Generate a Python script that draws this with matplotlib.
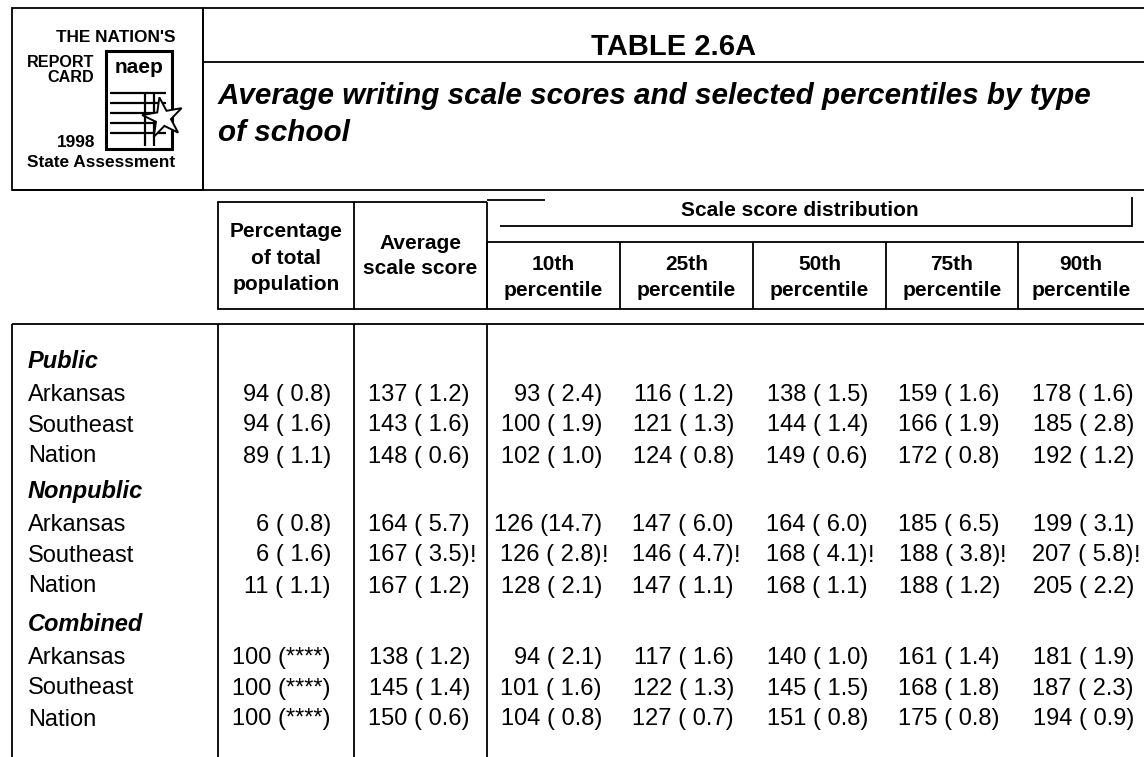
import matplotlib
matplotlib.use("Agg")
import matplotlib.pyplot as plt
from matplotlib.patches import Rectangle, Polygon
import numpy as np

# ---------------- data ----------------
groups = ["Public", "Nonpublic", "Combined"]
regions = ["Arkansas", "Southeast", "Nation"]

pct_total = [94, 94, 89, 6, 6, 11, 100, 100, 100]
pct_total_se = [0.8, 1.6, 1.1, 0.8, 1.6, 1.1, None, None, None]
avg_score = [137, 143, 148, 164, 167, 167, 138, 145, 150]
avg_score_se = [1.2, 1.6, 0.6, 5.7, 3.5, 1.2, 1.2, 1.4, 0.6]
p10 = [93, 100, 102, 126, 126, 128, 94, 101, 104]
p10_se = [2.4, 1.9, 1.0, 14.7, 2.8, 2.1, 2.1, 1.6, 0.8]
p25 = [116, 121, 124, 147, 146, 147, 117, 122, 127]
p25_se = [1.2, 1.3, 0.8, 6.0, 4.7, 1.1, 1.6, 1.3, 0.7]
p50 = [138, 144, 149, 164, 168, 168, 140, 145, 151]
p50_se = [1.5, 1.4, 0.6, 6.0, 4.1, 1.1, 1.0, 1.5, 0.8]
p75 = [159, 166, 172, 185, 188, 188, 161, 168, 175]
p75_se = [1.6, 1.9, 0.8, 6.5, 3.8, 1.2, 1.4, 1.8, 0.8]
p90 = [178, 185, 192, 199, 207, 205, 181, 187, 194]
p90_se = [1.6, 2.8, 1.2, 3.1, 5.8, 2.2, 1.9, 2.3, 0.9]
# "!" flag (interpret with caution) -- applies to score columns only
flagged = [False, False, False, False, True, False, False, False, False]

title = "TABLE 2.6A"
subtitle_lines = ["Average writing scale scores and selected percentiles by type",
                  "of school"]
pct_header = ["Percentage", "of total", "population"]
avg_header = ["Average", "scale score"]
pctile_headers = ["10th", "25th", "50th", "75th", "90th"]
pctile_word = "percentile"
spanner = "Scale score distribution"
logo_top = "THE NATION'S"
logo_left = ["REPORT", "CARD"]
logo_year = "1998"
logo_bottom = "State Assessment"
logo_mark = "naep"

# ---------------- figure ----------------
W, H = 1144, 757
fig = plt.figure(figsize=(W / 100, H / 100), dpi=100)
ax = fig.add_axes([0, 0, 1, 1])
ax.set_xlim(0, W)
ax.set_ylim(H, 0)
ax.axis("off")

SANS = ["Liberation Sans", "DejaVu Sans"]
LW = 1.3


def hline(y, x0, x1, lw=LW):
    ax.plot([x0, x1], [y, y], color="black", lw=lw, solid_capstyle="butt")


def vline(x, y0, y1, lw=LW):
    ax.plot([x, x], [y0, y1], color="black", lw=lw, solid_capstyle="butt")


# ---------- logo box ----------
ax.add_patch(Rectangle((12, 8), 191, 182, fill=False, ec="black", lw=LW))
LFS = 12.4
ax.text(175, 42, logo_top, ha="right", va="baseline", fontsize=LFS,
        fontweight="bold", family=SANS)
ax.text(94, 67, logo_left[0], ha="right", va="baseline", fontsize=11.6,
        fontweight="bold", family=SANS)
ax.text(94, 82, logo_left[1], ha="right", va="baseline", fontsize=11.6,
        fontweight="bold", family=SANS)
ax.text(95, 147, logo_year, ha="right", va="baseline", fontsize=LFS,
        fontweight="bold", family=SANS)
ax.text(175, 167, logo_bottom, ha="right", va="baseline", fontsize=LFS,
        fontweight="bold", family=SANS)
# report-card icon
ax.add_patch(Rectangle((106, 51), 66, 98, fill=False, ec="black", lw=2.2))
ax.text(139, 73, logo_mark, ha="center", va="baseline", fontsize=15,
        fontweight="heavy", family=SANS)
for yy in [93, 103, 113, 123, 133]:
    hline(yy, 110, 166, lw=1.6)
for xx in [145, 154]:
    vline(xx, 93, 146, lw=1.6)
ang = np.deg2rad(np.arange(10) * 36 + 100)
rad = np.where(np.arange(10) % 2 == 0, 21, 8)
star = np.column_stack([163 + rad * np.cos(ang), 118 - rad * np.sin(ang)])
ax.add_patch(Polygon(star, closed=True, fc="white", ec="black", lw=1.4,
                     zorder=5))

# ---------- title box ----------
hline(8, 203, W)
hline(62, 203, W)
hline(190, 12, W)
vline(203, 8, 190)
ax.text((203 + W) / 2, 55, title, ha="center", va="baseline", fontsize=21,
        fontweight="bold", family=SANS)
ax.text(218, 104, subtitle_lines[0], ha="left", va="baseline", fontsize=21.3,
        fontweight="bold", fontstyle="italic", family=SANS)
ax.text(218, 141, subtitle_lines[1], ha="left", va="baseline", fontsize=21.3,
        fontweight="bold", fontstyle="italic", family=SANS)

# ---------- column headers ----------
HFS = 15
# percentage box
ax.add_patch(Rectangle((218, 202), 136, 107, fill=False, ec="black", lw=LW))
for k, s in enumerate(pct_header):
    ax.text(286, 237 + 26.5 * k, s, ha="center", va="baseline", fontsize=HFS,
            fontweight="bold", family=SANS)
# average box
hline(202, 354, 487)
vline(487, 202, 309)
hline(309, 354, 487)
for k, s in enumerate(avg_header):
    ax.text(420.5, 249 + 25 * k, s, ha="center", va="baseline", fontsize=HFS,
            fontweight="bold", family=SANS)
# spanner
hline(200, 487, 545)
hline(226, 500, 1132)
vline(1132, 197, 227)
ax.text(800, 216, spanner, ha="center", va="baseline", fontsize=HFS,
        fontweight="bold", family=SANS)
# percentile boxes
col_edges = [487, 620, 753, 886, 1018, W]
hline(242, 487, W)
hline(309, 487, W)
for xx in col_edges[:-1]:
    vline(xx, 242, 309)
for k, lab in enumerate(pctile_headers):
    cx = (col_edges[k] + min(col_edges[k + 1], 1151)) / 2
    ax.text(cx, 270, lab, ha="center", va="baseline", fontsize=HFS,
            fontweight="bold", family=SANS)
    ax.text(cx, 296, pctile_word, ha="center", va="baseline", fontsize=HFS,
            fontweight="bold", family=SANS)

# ---------- body ----------
hline(324, 12, W)
for xx in [12, 218, 354, 487]:
    vline(xx, 324, H)

DFS = 17
group_y = [360, 490, 623]
row_off = [33, 63.5, 94.5]


def fmt(v, se):
    if se is None:
        return f"{v} (****)"
    return f"{v} ({se:4.1f})"


columns = [
    (pct_total, pct_total_se, 331, False),
    (avg_score, avg_score_se, 470, True),
    (p10, p10_se, 602, True),
    (p25, p25_se, 734, True),
    (p50, p50_se, 868, True),
    (p75, p75_se, 1000, True),
    (p90, p90_se, 1134, True),
]

for g, gname in enumerate(groups):
    gy = group_y[g]
    ax.text(28, gy + 8, gname, ha="left", va="baseline", fontsize=DFS,
            fontweight="bold", fontstyle="italic", family=SANS)
    for r, rname in enumerate(regions):
        i = g * 3 + r
        by = gy + row_off[r] + 8
        ax.text(28, by, rname, ha="left", va="baseline", fontsize=DFS,
                family=SANS)
        for vals, ses, xr, can_flag in columns:
            ax.text(xr, by, fmt(vals[i], ses[i]), ha="right", va="baseline",
                    fontsize=DFS, family=SANS)
            if can_flag and flagged[i]:
                ax.text(xr, by, "!", ha="left", va="baseline", fontsize=DFS,
                        family=SANS)

fig.savefig("out.png", dpi=100)
